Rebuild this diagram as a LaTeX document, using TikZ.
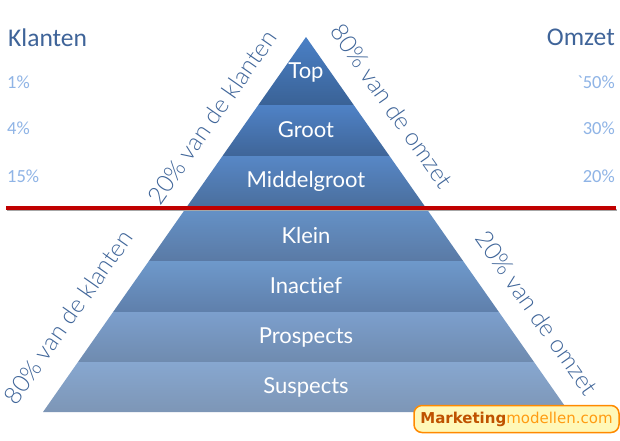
\documentclass[tikz,border=0pt]{standalone}
\usepackage{fontspec}
\setmainfont{Lato}[Ligatures=NoCommon]
\newfontfamily\sidefont{Lato Light}[Ligatures=NoCommon]
\newfontfamily\headfont{Carlito}
\newfontfamily\badgefont{DejaVu Sans}
\definecolor{headblue}{HTML}{3F6499}
\definecolor{pctblue}{HTML}{8FB4E6}
\definecolor{sideblue}{HTML}{3F6599}
\definecolor{linered}{HTML}{C00000}
\definecolor{badgeline}{HTML}{FF8A00}
\definecolor{badgefill}{HTML}{FFF8B8}
\definecolor{badgedark}{HTML}{BF5200}
\definecolor{badgelight}{HTML}{FF9C12}
\definecolor{aT}{HTML}{4A80C6}\definecolor{aB}{HTML}{3A6296}
\definecolor{bT}{HTML}{4F82C6}\definecolor{bB}{HTML}{3F6598}
\definecolor{cT}{HTML}{5787C6}\definecolor{cB}{HTML}{4A6E9C}
\definecolor{dT}{HTML}{6592C8}\definecolor{dB}{HTML}{5A7AA5}
\definecolor{eT}{HTML}{6E99CB}\definecolor{eB}{HTML}{5F7FAB}
\definecolor{fT}{HTML}{7C9FCD}\definecolor{fB}{HTML}{6F8BAF}
\definecolor{gT}{HTML}{87A7D0}\definecolor{gB}{HTML}{7D96B6}
\tikzset{
  bandlabel/.style={text=white,font=\fontsize{22}{26}\selectfont,inner sep=0pt,anchor=base},
  head/.style={text=headblue,font=\headfont\fontsize{25.5}{30}\selectfont,inner sep=0pt},
  pct/.style={text=pctblue,font=\headfont\fontsize{18.5}{22}\selectfont,inner sep=0pt},
  sidelabel/.style={text=sideblue,font=\sidefont\fontsize{24.2}{29}\selectfont,inner sep=0pt},
}
\begin{document}
\begin{tikzpicture}[x=1pt,y=-1pt]
\useasboundingbox (0,0) rectangle (620,440);
\fill[white] (0,0) rectangle (620,440);
% pyramid bands
\shade[top color=aT,bottom color=aB] (306,37) -- (353.7,105) -- (258.3,105) -- cycle;
\shade[top color=bT,bottom color=bB] (258.3,105) -- (353.7,105) -- (389.5,156) -- (222.5,156) -- cycle;
\shade[top color=cT,bottom color=cB] (222.5,156) -- (389.5,156) -- (426,208) -- (186,208) -- cycle;
\shade[top color=dT,bottom color=dB] (186,208) -- (426,208) -- (463.1,261) -- (148.9,261) -- cycle;
\shade[top color=eT,bottom color=eB] (148.9,261) -- (463.1,261) -- (498.9,312) -- (113.1,312) -- cycle;
\shade[top color=fT,bottom color=fB] (113.1,312) -- (498.9,312) -- (534,362) -- (78,362) -- cycle;
\shade[top color=gT,bottom color=gB] (78,362) -- (534,362) -- (569,412) -- (43,412) -- cycle;
% red rule with shadow
\fill[black!35] (7,208.5) rectangle (617,210.5);
\fill[linered] (6,206) rectangle (616,209.5);
% band labels
\node[bandlabel] (top) at (306,78) {Top};
\node[bandlabel] (groot) at (306,137) {Groot};
\node[bandlabel] (middelgroot) at (306,187) {Middelgroot};
\node[bandlabel] (klein) at (306,243) {Klein};
\node[bandlabel] (inactief) at (306,293) {Inactief};
\node[bandlabel] (prospects) at (306,343) {Prospects};
\node[bandlabel] (suspects) at (306,393) {Suspects};
% headings and percentages
\node[head,anchor=base west] (klanten) at (8,46) {Klanten};
\node[head,anchor=base east] (omzet) at (615,45) {Omzet};
\node[pct,anchor=base west] (p1) at (7,88) {1\%};
\node[pct,anchor=base west] (p4) at (7,134) {4\%};
\node[pct,anchor=base west] (p15) at (7,182) {15\%};
\node[pct,anchor=base east] (o50) at (615,88) {`50\%};
\node[pct,anchor=base east] (o30) at (615,134) {30\%};
\node[pct,anchor=base east] (o20) at (615,182) {20\%};
% side labels
\node[sidelabel,rotate=55] (s20k) at (212,117) {20\% van de klanten};
\node[sidelabel,rotate=-55] (s80o) at (392,106) {80\% van de omzet};
\node[sidelabel,rotate=55] (s80k) at (68,317) {80\% van de klanten};
\node[sidelabel,rotate=-55] (s20o) at (537,313) {20\% van de omzet};
% badge
\node[draw=badgeline,line width=1.5pt,fill=badgefill,rounded corners=8pt,minimum width=205pt,minimum height=27pt,inner sep=0pt,
  font=\badgefont\fontsize{15}{18}\selectfont] (badge) at (516.5,419)
  {\textcolor{badgedark}{\textbf{Marketing}}\textcolor{badgelight}{modellen.com}};
\end{tikzpicture}
\end{document}
